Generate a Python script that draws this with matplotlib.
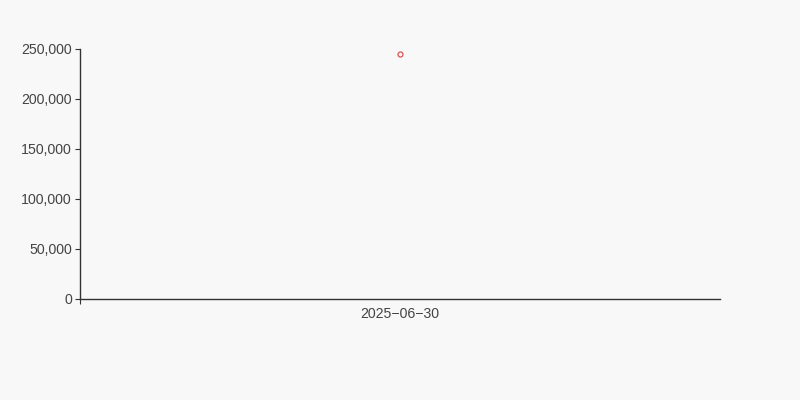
import matplotlib
matplotlib.use('Agg')
import matplotlib.pyplot as plt
from matplotlib.ticker import FuncFormatter, FixedLocator

dates = ['2025-06-30']
values = [245000]
y_ticks = [0, 50000, 100000, 150000, 200000, 250000]

plt.rcParams['font.family'] = ['Liberation Sans', 'DejaVu Sans']

fig = plt.figure(figsize=(8, 4), dpi=100, facecolor='#f8f8f8')
ax = fig.add_axes([0.1, 0.2525, 0.8, 0.625])
ax.set_facecolor('#f8f8f8')

# category axis: one slot, point in the middle
xs = [i + 0.5 for i in range(len(dates))]
ax.plot(xs, values, linestyle='none', marker='o', markersize=3.6,
        markerfacecolor='#f8f8f8', markeredgecolor='#d9534f', markeredgewidth=0.9)

ax.set_xlim(0, len(dates))
ax.set_ylim(0, 250000)
ax.set_yticks(y_ticks)
ax.yaxis.set_major_formatter(FuncFormatter(lambda v, p: f'{int(v):,}'))

# tick marks at category boundaries, labels at centres
ax.xaxis.set_major_locator(FixedLocator([0]))
ax.xaxis.set_minor_locator(FixedLocator(xs))
ax.set_xticklabels([''])
ax.set_xticklabels([d.replace('-', '\u2212') for d in dates], minor=True)
ax.tick_params(axis='x', which='minor', length=0, pad=5.5, labelsize=10.2, labelcolor='#444444')
ax.tick_params(axis='x', which='major', length=3.6, color='#333333')
ax.tick_params(axis='y', length=3.6, color='#333333', labelsize=10.2, labelcolor='#444444', pad=2.2)

for s in ['top', 'right']:
    ax.spines[s].set_visible(False)
for s in ['left', 'bottom']:
    ax.spines[s].set_color('#333333')
    ax.spines[s].set_linewidth(1)

fig.savefig('out.png', dpi=100, facecolor=fig.get_facecolor())
